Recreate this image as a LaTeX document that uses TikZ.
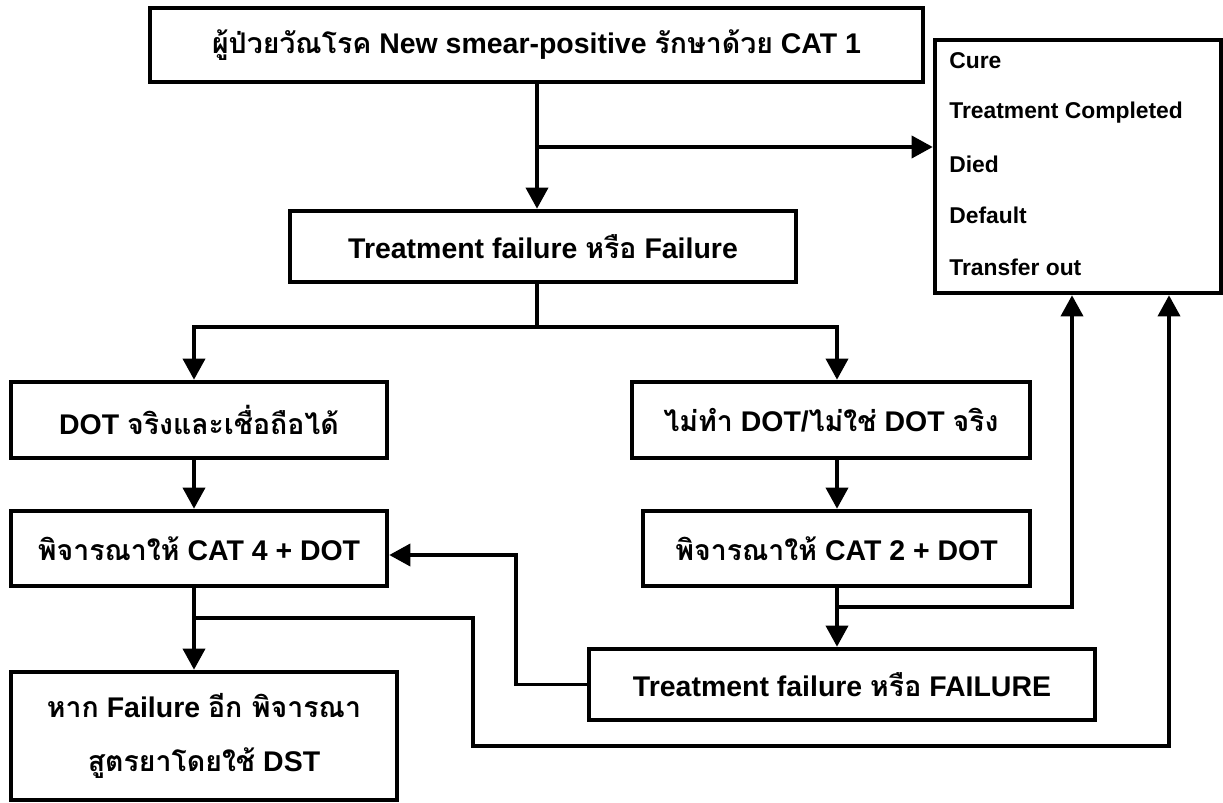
\documentclass[tikz,border=0pt]{standalone}
\usepackage{fontspec}
\setmainfont{Liberation Sans}
\newfontfamily\thaifont[Script=Thai]{Loma}
\newcommand{\thx}[1]{{\thaifont #1}}
\usetikzlibrary{arrows.meta}

\begin{document}
\begin{tikzpicture}[x=0.02cm, y=-0.02cm,
    box/.style={draw, line width=2.6pt, inner sep=0pt, align=center,
        font=\bfseries\fontsize{16.2}{19}\selectfont},
    conn/.style={line width=2.2pt},
    arr/.style={conn, -{Triangle[length=12pt, width=12.5pt]}},
    item/.style={anchor=west, inner sep=0pt, font=\bfseries\fontsize{13}{15}\selectfont}]
        \useasboundingbox (0,0) rectangle (1223,803);

        % Boxes
        \node[box, minimum width=15.46cm, minimum height=1.48cm] (patient) at (536.5,45)
            {\thx{ผู้ป่วยวัณโรค} New smear-positive \thx{รักษาด้วย} CAT 1};
        \node[box, minimum width=10.12cm, minimum height=1.42cm] (tf1) at (543,246.5)
            {Treatment failure \thx{หรือ} Failure};
        \node[box, minimum width=7.52cm, minimum height=1.52cm] (dot) at (199,420)
            {DOT \thx{จริงและเชื่อถือได้}};
        \node[box, minimum width=7.52cm, minimum height=1.5cm] (cat4) at (199,548.5)
            {\thx{พิจารณาให้} CAT 4 + DOT};
        \node[box, minimum width=7.72cm, minimum height=2.56cm] (dst) at (204,736)
            {\thx{หาก} Failure \thx{อีก พิจารณา}\\[12pt] \thx{สูตรยาโดยใช้} DST};
        \node[box, minimum width=7.96cm, minimum height=1.52cm] (nodot) at (831,420)
            {\thx{ไม่ทำ} DOT/\thx{ไม่ใช่} DOT \thx{จริง}};
        \node[box, minimum width=7.74cm, minimum height=1.5cm] (cat2) at (836.5,548.5)
            {\thx{พิจารณาให้} CAT 2 + DOT};
        \node[box, minimum width=10.12cm, minimum height=1.42cm] (tf2) at (842,684.5)
            {Treatment failure \thx{หรือ} FAILURE};

        % Outcome list
        \node[box, minimum width=5.72cm, minimum height=5.06cm] (outcome) at (1078,166.5) {};
        \node[item] (cure) at (949,61) {Cure};
        \node[item] (compl) at (949,113) {Treatment Completed};
        \node[item] (died) at (949,164) {Died};
        \node[item] (default) at (949,215) {Default};
        \node[item] (trans) at (949,267) {Transfer out};

        % Columns of the connectors
        \coordinate (lcol) at (194,0);
        \coordinate (rcol) at (837,0);
        \coordinate (split1) at (537,147);
        \coordinate (split2) at (537,327);

        % Top part
        \draw[arr] (patient.south -| split1) -- (split1 |- tf1.north);
        \draw[arr] (split1) -- (split1 -| outcome.west);
        \draw[conn] (tf1.south -| split2) -- (split2);
        \draw[arr] (split2) -| (lcol |- dot.north);
        \draw[arr] (split2) -| (rcol |- nodot.north);

        % Down the columns
        \draw[arr] (lcol |- dot.south) -- (lcol |- cat4.north);
        \draw[arr] (lcol |- cat4.south) -- (lcol |- dst.north);
        \draw[arr] (rcol |- nodot.south) -- (rcol |- cat2.north);
        \draw[arr] (rcol |- cat2.south) -- (rcol |- tf2.north);

        % Back to the outcome list
        \coordinate (split3) at (837,607);
        \coordinate (up1) at (1072,0);
        \draw[arr] (split3) -| (up1 |- outcome.south);
        \coordinate (split4) at (194,618);
        \coordinate (low) at (473,746);
        \coordinate (up2) at (1169,0);
        \draw[arr] (split4) -| (low) -| (up2 |- outcome.south);

        % Failure again goes to CAT 4
        \coordinate (ret) at (516,555);
        \draw[arr] (tf2.west) -| (ret) -- (ret -| cat4.east);
    \end{tikzpicture}
\end{document}
